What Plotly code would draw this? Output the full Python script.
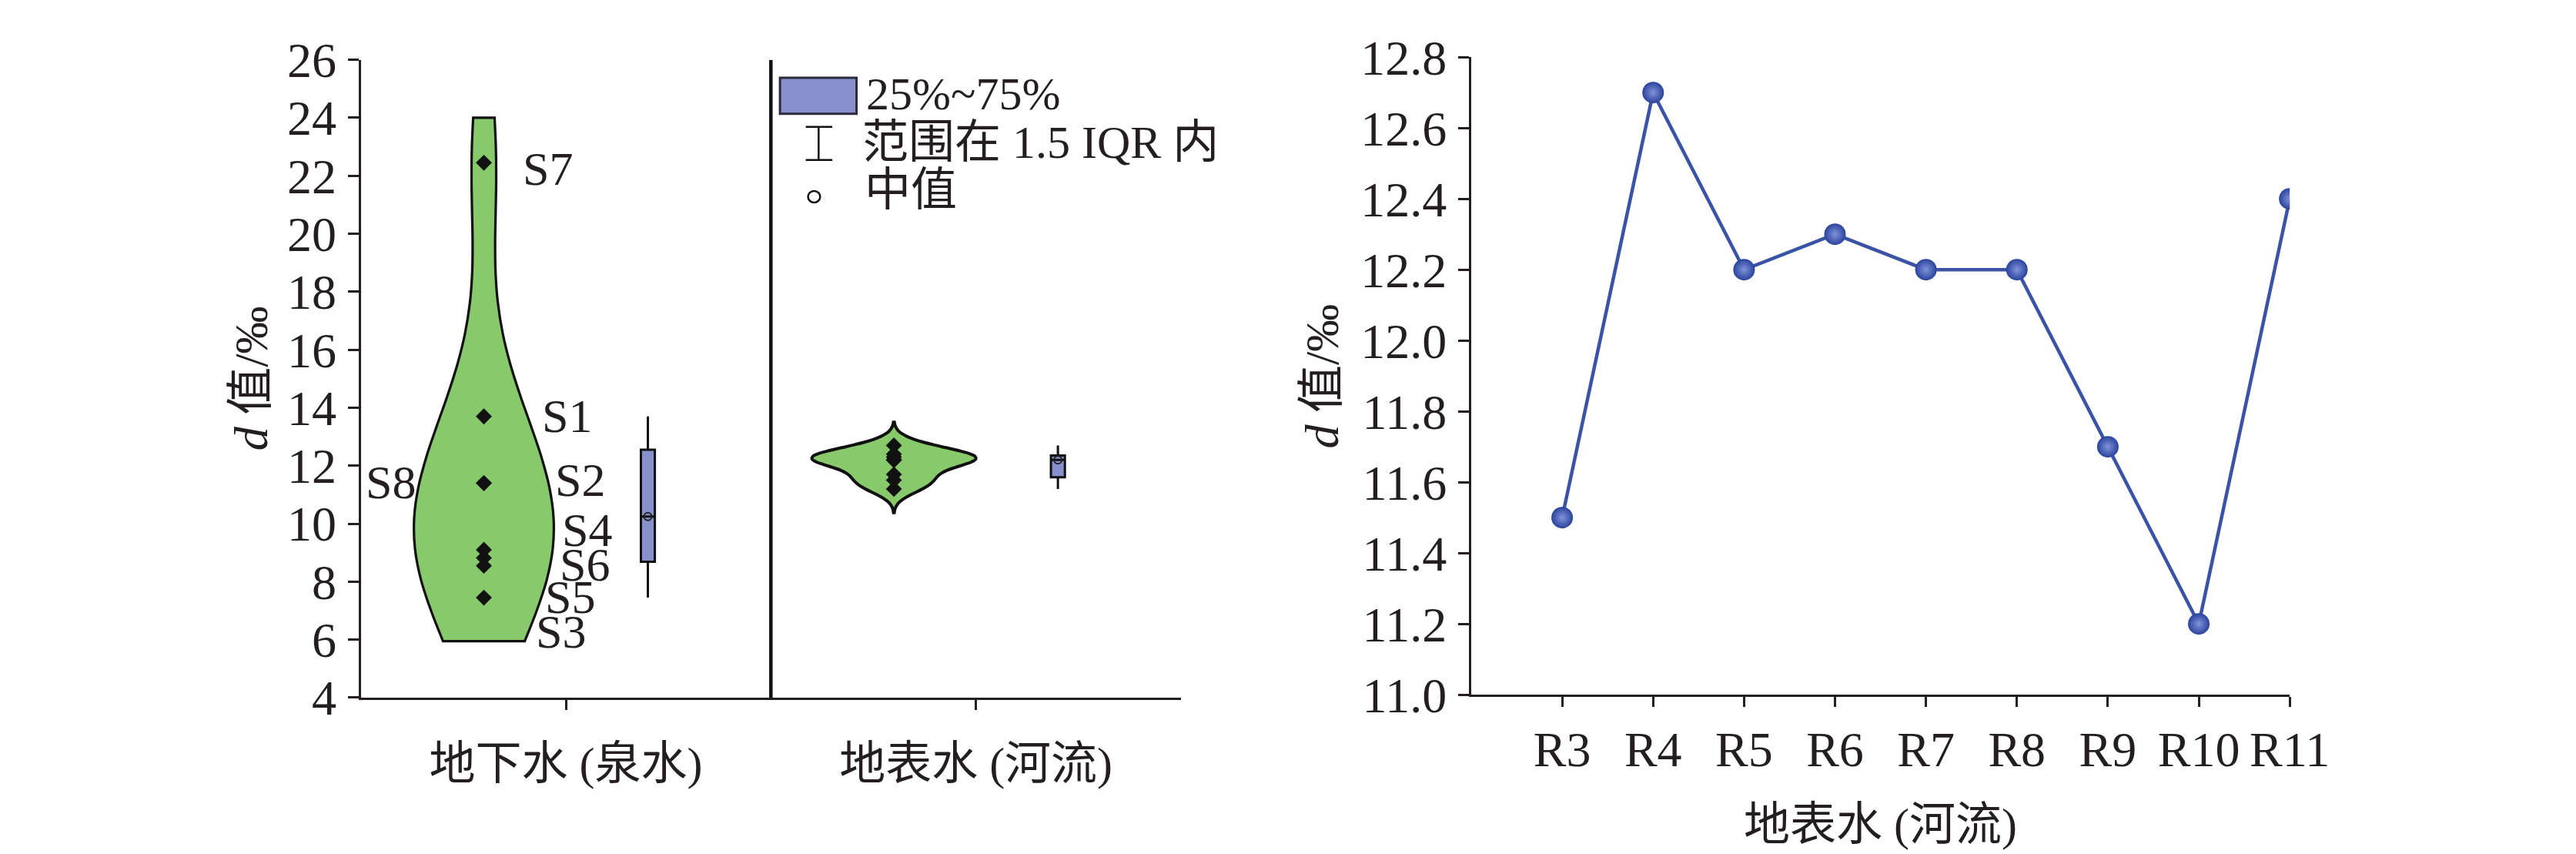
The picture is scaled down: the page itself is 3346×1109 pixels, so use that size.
import numpy as np
import plotly.graph_objects as go

W, H = 3346, 1109

# ---------------- data ----------------
groups = ["地下水 (泉水)", "地表水 (河流)"]
spring_names = ["S1", "S2", "S3", "S4", "S5", "S6", "S7", "S8"]
spring_d = [13.7, 11.4, 7.45, 9.1, 8.55, 8.82, 22.45, 11.4]
river_names = ["R3", "R4", "R5", "R6", "R7", "R8", "R9", "R10", "R11"]
river_d = [11.5, 12.7, 12.2, 12.3, 12.2, 12.2, 11.7, 11.2, 12.4]
left_yticks = [4, 6, 8, 10, 12, 14, 16, 18, 20, 22, 24, 26]
right_yticks = [11.0, 11.2, 11.4, 11.6, 11.8, 12.0, 12.2, 12.4, 12.6, 12.8]
legend_labels = ["25%~75%", "范围在 1.5 IQR 内", "中值"]
y_title = "<i>d</i> 值/‰"
right_x_title = "地表水 (河流)"

# ---------------- style ----------------
FONT = "Liberation Serif, Noto Sans CJK SC, serif"
INK = "#231f20"
GREEN = "#88c96c"
BOXC = "#8890cc"
BLUE = "#3b53a6"
# label pixel offsets (dx, dy) relative to each point
label_offset = {"S1": (108, 1), "S2": (125, 4), "S3": (100, -44), "S4": (134, 26),
                "S5": (112, -40), "S6": (131, -9), "S7": (83, -8), "S8": (-121, 1)}


def px(x):
    return x / W


def py(y):
    return 1 - y / H


def box_stats(v):
    s = sorted(v)
    n = len(s)
    half = n // 2
    q1 = float(np.median(s[:half]))
    q3 = float(np.median(s[n - half:]))
    med = float(np.median(s))
    iqr = q3 - q1
    lf = min(x for x in s if x >= q1 - 1.5 * iqr)
    uf = max(x for x in s if x <= q3 + 1.5 * iqr)
    return q1, med, q3, lf, uf


fig = go.Figure()

datasets = [spring_d, river_d]
vio_width = [0.34, 0.40]
vio_bw = [3.2, 0.3]
vio_span = [[5.95, 24.0], [10.38, 13.5]]
vio_lw = [3.2, 4]
for i, vals in enumerate(datasets):
    fig.add_trace(go.Violin(
        x0=i - 0.2, y=vals, xaxis="x", yaxis="y", width=vio_width[i], bandwidth=vio_bw[i],
        spanmode="manual", span=vio_span[i],
        fillcolor=GREEN, line=dict(color="#111111", width=vio_lw[i]),
        points="all", pointpos=0, jitter=0,
        marker=dict(symbol="diamond", size=16, color="#111111"),
        box_visible=False, meanline_visible=False, showlegend=False, hoverinfo="skip"))
    q1, med, q3, lf, uf = box_stats(vals)
    fig.add_trace(go.Box(
        x=[i + 0.2], q1=[q1], median=[med], q3=[q3], lowerfence=[lf], upperfence=[uf],
        xaxis="x", yaxis="y", width=0.034,
        fillcolor=BOXC, line=dict(color="#111111", width=3),
        whiskerwidth=0, showlegend=False, hoverinfo="skip"))

fig.add_trace(go.Scatter(
    x=[i + 0.2 for i in range(len(datasets))], y=[box_stats(v)[1] for v in datasets],
    xaxis="x", yaxis="y", mode="markers",
    marker=dict(symbol="circle-open", size=10, color="#222222", line=dict(width=2)),
    showlegend=False, hoverinfo="skip"))

fig.add_trace(go.Scatter(
    x=list(range(len(river_names))), y=river_d, xaxis="x2", yaxis="y2",
    mode="lines+markers", line=dict(color=BLUE, width=4.5),
    marker=dict(size=28, color="#2a429c", gradient=dict(type="radial", color="#8094da"),
                line=dict(width=0)),
    showlegend=False, hoverinfo="skip"))

TICKF = dict(family=FONT, size=64, color=INK)
axis_common = dict(showline=True, linecolor=INK, linewidth=3, ticks="outside", tickcolor=INK,
                   tickwidth=3, showgrid=False, zeroline=False, mirror=False)

fig.update_layout(
    width=W, height=H, margin=dict(l=0, r=0, t=0, b=0),
    paper_bgcolor="white", plot_bgcolor="white",
    font=dict(family=FONT, color=INK),
    xaxis=dict(domain=[px(468), px(1550)], range=[-0.5, 1.5], type="linear",
               tickvals=list(range(len(groups))), ticktext=groups, anchor="y", ticklen=13,
               ticklabelstandoff=18, tickfont=dict(family=FONT, size=60, color=INK), **axis_common),
    yaxis=dict(domain=[py(922), py(37)], range=[4, 26], tickvals=left_yticks, anchor="x",
               ticklen=14, ticklabelstandoff=2, tickfont=TICKF, **axis_common),
    xaxis2=dict(domain=[px(1933), px(3013)], range=[-1, 8], type="linear",
                tickvals=list(range(len(river_names))), ticktext=river_names, anchor="y2",
                ticklen=13, ticklabelstandoff=0, tickfont=TICKF, **axis_common),
    yaxis2=dict(domain=[py(918), py(33.3)], range=[11.0, 12.8], tickvals=right_yticks,
                tickformat=".1f", anchor="x2", ticklen=14, ticklabelstandoff=2,
                tickfont=TICKF, **axis_common),
)

# divider between the two groups
fig.add_shape(type="line", xref="x", yref="y", x0=0.5, x1=0.5, y0=4, y1=26,
              line=dict(color="#111111", width=4.5))

# legend (box / whisker / median)
fig.add_shape(type="rect", xref="paper", yref="paper", x0=px(1021), x1=px(1122),
              y0=py(112), y1=py(62), fillcolor=BOXC, line=dict(color="#2a2a3a", width=3))
for seg in [(1072, 130, 1072, 176), (1055, 130, 1090, 130), (1055, 176, 1090, 176)]:
    fig.add_shape(type="line", xref="paper", yref="paper", x0=px(seg[0]), y0=py(seg[1]),
                  x1=px(seg[2]), y1=py(seg[3]), line=dict(color="#111111", width=2.5))
fig.add_shape(type="circle", xref="paper", yref="paper", x0=px(1058), x1=px(1074),
              y0=py(235), y1=py(219), line=dict(color="#111111", width=2.5))
for lab, (lx, ly) in zip(legend_labels, [(1133, 84), (1128, 152), (1131, 218)]):
    fig.add_annotation(text=lab, xref="paper", yref="paper", x=px(lx), y=py(ly),
                       xanchor="left", yanchor="middle", showarrow=False,
                       font=dict(family=FONT, size=60, color=INK))

# sample labels
for name, val in zip(spring_names, spring_d):
    dx, dy = label_offset[name]
    fig.add_annotation(text=name, xref="x", yref="y", x=-0.2, y=val, xshift=dx, yshift=dy,
                       showarrow=False, xanchor="center", yanchor="middle",
                       font=dict(family=FONT, size=62, color=INK))

# axis titles
for xx, yy in [(323, 479), (1736, 476)]:
    fig.add_annotation(text=y_title, xref="paper", yref="paper", x=px(xx), y=py(yy),
                       textangle=-90, showarrow=False, xanchor="center", yanchor="middle",
                       font=dict(family=FONT, size=62, color=INK))
fig.add_annotation(text=right_x_title, xref="paper", yref="paper", x=px(2473), y=py(1098),
                   showarrow=False, xanchor="center", yanchor="middle",
                   font=dict(family=FONT, size=60, color=INK))

fig.write_html("out.html")
